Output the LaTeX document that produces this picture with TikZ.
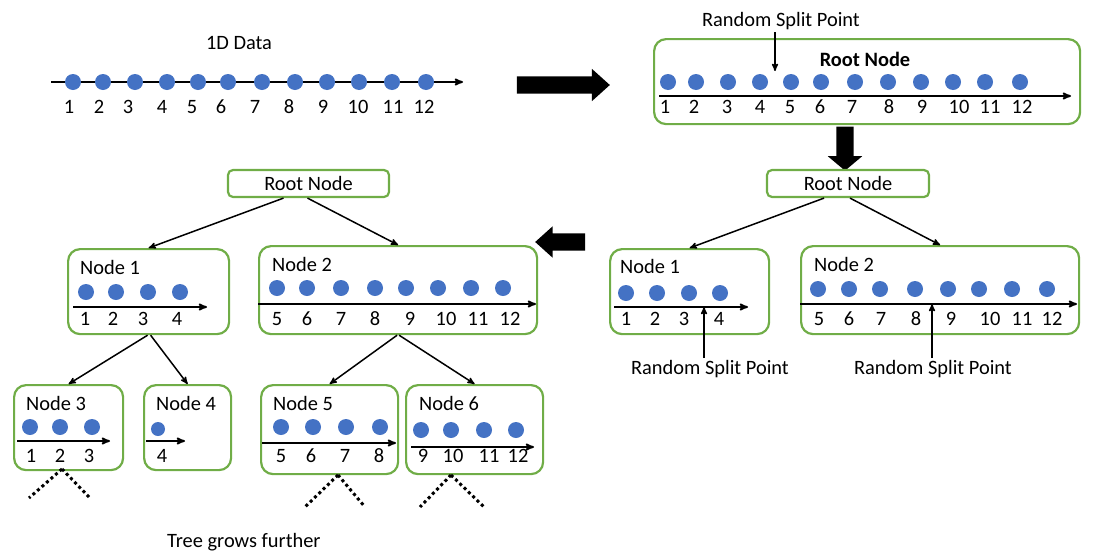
\documentclass[tikz,border=0pt]{standalone}
\usepackage{fontspec}
\setmainfont{Carlito}
\usepackage{tikz}
\usetikzlibrary{arrows,shapes.arrows,positioning}
\definecolor{boxgreen}{RGB}{112,173,71}
\definecolor{dotblue}{RGB}{68,114,196}

\begin{document}
\begin{tikzpicture}
  [x=1pt,y=-1pt,>=stealth',font=\fontsize{20.4}{24}\selectfont,
  tree box/.style={draw=boxgreen,line width=2.2pt,rounded corners=12pt,anchor=north west,inner sep=0pt},
  root box/.style={draw=boxgreen,line width=2.2pt,rounded corners=5pt,inner sep=0pt,minimum height=27pt},
  data dot/.style={circle,fill=dotblue,inner sep=0pt,minimum size=16pt},
  lbl/.style={anchor=base,inner sep=0pt},
  axis line/.style={->,line width=1.8pt},
  tree edge/.style={->,line width=1.5pt},
  block arrow/.style={single arrow,fill=black,draw=none,inner xsep=0pt,inner ysep=8.5pt,single arrow head extend=7.5pt,single arrow tip angle=84},
  grow line/.style={line width=3pt,dash pattern=on 3pt off 3pt}]
  \useasboundingbox (0,0) rectangle (1097,552);

  % 1D data
  \node[lbl] (title) at (239,49.5) {1D Data};
  \coordinate (a0s) at (51,82);
  \coordinate (a0e) at (463,82);
  \draw[axis line] (a0s) -- (a0e);
  \foreach \x [count=\i] in {73,103,135,167,198,228,262,295,327,359,392,426}
    \node[data dot] (d0\i) at (\x,82) {};
  \foreach \x [count=\i] in {69,99,128,162,192,221,255,289,323,358,393,424}
    \node[lbl] (l0\i) at (\x,113.5) {\i};

  \node[block arrow,minimum height=93pt,minimum width=32pt] (flow1) at (558.5,85) {};

  % root node with all data
  \node[tree box,minimum width=426pt,minimum height=85pt] (rootbig) at (653,38) {};
  \node[lbl] (split0) at (781,26) {Random Split Point};
  \node[lbl] (rootname) at (865,66.5) {\bfseries Root Node};
  \coordinate (sp0) at (775,71);
  \draw[tree edge,shorten <=3pt] ([xshift=-6pt]split0.south) -- (sp0);
  \coordinate (a1s) at (659,96);
  \coordinate (a1e) at (1071,96);
  \draw[axis line] (a1s) -- (a1e);
  \foreach \x [count=\i] in {668,696,728,760,791,821,855,888,921,953,985,1020}
    \node[data dot] (d1\i) at (\x,82) {};
  \foreach \x [count=\i] in {665,694,727,760,790,820,852,889,922,959,990,1022}
    \node[lbl] (l1\i) at (\x,113.5) {\i};

  \node[block arrow,rotate=-90,minimum height=44pt,minimum width=34pt,
    single arrow head extend=8.5pt,single arrow tip angle=100] (flow2) at (845,145) {};

  % first split
  \node[root box,minimum width=162pt] (rootR) at (848,183.5) {Root Node};
  \node[tree box,minimum width=159pt,minimum height=85pt] (n1R) at (609,248) {};
  \node[tree box,minimum width=278pt,minimum height=88pt] (n2R) at (800,245) {};
  \path[tree edge]
  ([xshift=-24pt]rootR.south) edge (n1R.north)
  ([xshift=2pt]rootR.south) edge (n2R.north);

  \node[lbl,anchor=base west] (t1R) at (620,273.5) {Node 1};
  \coordinate (a2s) at (614,307);
  \coordinate (a2e) at (748,307);
  \draw[axis line] (a2s) -- (a2e);
  \foreach \x [count=\i] in {626,657,689,720}
    \node[data dot] (d2\i) at (\x,293) {};
  \foreach \x [count=\i] in {626,655,684,719}
    \node[lbl] (l2\i) at (\x,325.5) {\i};
  \node[lbl] (split1) at (710,374.5) {Random Split Point};
  \coordinate (sp1) at (704,307);
  \draw[tree edge,shorten <=2pt] ([xshift=-6pt]split1.north) -- (sp1);

  \node[lbl,anchor=base west] (t2R) at (814,271.5) {Node 2};
  \coordinate (a3s) at (800,304);
  \coordinate (a3e) at (1077,304);
  \draw[axis line] (a3s) -- (a3e);
  \foreach \x [count=\i] in {818,849,880,915,948,979,1012,1047}
    \node[data dot] (d3\i) at (\x,289) {};
  \foreach \x [count=\i from 5] in {819,849,881,916,951,990,1022,1052}
    \node[lbl] (l3\i) at (\x,325.5) {\i};
  \node[lbl] (split2) at (933,374.5) {Random Split Point};
  \coordinate (sp2) at (932,304);
  \draw[tree edge,shorten <=2pt] ([xshift=-1pt]split2.north) -- (sp2);

  \node[block arrow,rotate=180,minimum height=50pt,minimum width=31pt,
    single arrow head extend=7pt] (flow3) at (565,242) {};

  % tree
  \node[root box,minimum width=161pt] (rootL) at (308.5,183.5) {Root Node};
  \node[tree box,minimum width=161pt,minimum height=85pt] (n1L) at (67,248) {};
  \node[tree box,minimum width=278pt,minimum height=88pt] (n2L) at (258,245) {};
  \node[tree box,minimum width=109pt,minimum height=85pt] (n3) at (13,384) {};
  \node[tree box,minimum width=87pt,minimum height=85pt] (n4) at (143,384) {};
  \node[tree box,minimum width=137pt,minimum height=89pt] (n5) at (260,384) {};
  \node[tree box,minimum width=137pt,minimum height=89pt] (n6) at (405,384) {};
  \path[tree edge]
  ([xshift=-25pt]rootL.south) edge (n1L.north)
  ([xshift=-1pt]rootL.south) edge (n2L.north)
  ([xshift=-1pt]n1L.south) edge (n3.north)
  ([xshift=2pt]n1L.south) edge (n4.north)
  ([xshift=-1pt]n2L.south) edge (n5.north)
  ([xshift=1pt]n2L.south) edge (n6.north);

  \node[lbl,anchor=base west] (t1L) at (80,274.5) {Node 1};
  \coordinate (a4s) at (73,307);
  \coordinate (a4e) at (207,307);
  \draw[axis line] (a4s) -- (a4e);
  \foreach \x [count=\i] in {86,116,148,180}
    \node[data dot] (d4\i) at (\x,292) {};
  \foreach \x [count=\i] in {85,113,143,177}
    \node[lbl] (l4\i) at (\x,325.5) {\i};

  \node[lbl,anchor=base west] (t2L) at (272,271.5) {Node 2};
  \coordinate (a5s) at (258,304);
  \coordinate (a5e) at (536,304);
  \draw[axis line] (a5s) -- (a5e);
  \foreach \x [count=\i] in {277,307,341,375,406,438,471,503}
    \node[data dot] (d5\i) at (\x,288) {};
  \foreach \x [count=\i from 5] in {277,307,341,375,410,446,478,510}
    \node[lbl] (l5\i) at (\x,325.5) {\i};

  \node[lbl,anchor=base west] (t3) at (26,410.5) {Node 3};
  \coordinate (a6s) at (17,441);
  \coordinate (a6e) at (110,441);
  \draw[axis line] (a6s) -- (a6e);
  \foreach \x [count=\i] in {30,60,92}
    \node[data dot] (d6\i) at (\x,427) {};
  \foreach \x [count=\i] in {31,60,89}
    \node[lbl] (l6\i) at (\x,462.5) {\i};

  \node[lbl,anchor=base west] (t4) at (156,410.5) {Node 4};
  \coordinate (a7s) at (146,441);
  \coordinate (a7e) at (185,441);
  \draw[axis line] (a7s) -- (a7e);
  \node[data dot,minimum size=14pt] (d71) at (158,429) {};
  \node[lbl] (l74) at (162,462.5) {4};

  \node[lbl,anchor=base west] (t5) at (273,410.5) {Node 5};
  \coordinate (a8s) at (262,443);
  \coordinate (a8e) at (396,443);
  \draw[axis line] (a8s) -- (a8e);
  \foreach \x [count=\i] in {281,313,346,380}
    \node[data dot] (d8\i) at (\x,427) {};
  \foreach \x [count=\i from 5] in {281,311,345,379}
    \node[lbl] (l8\i) at (\x,462.5) {\i};

  \node[lbl,anchor=base west] (t6) at (419,410.5) {Node 6};
  \coordinate (a9s) at (411,447);
  \coordinate (a9e) at (534,447);
  \draw[axis line] (a9s) -- (a9e);
  \foreach \x [count=\i] in {421,451,484,516}
    \node[data dot] (d9\i) at (\x,430) {};
  \foreach \x [count=\i from 9] in {423,453,489,518}
    \node[lbl] (l9\i) at (\x,462.5) {\i};

  % further splits
  \coordinate (g3) at (62,469);
  \coordinate (g3a) at (29,498);
  \coordinate (g3b) at (89,497);
  \coordinate (g5) at (338,475);
  \coordinate (g5a) at (305,507);
  \coordinate (g5b) at (365,507);
  \coordinate (g6) at (451,475);
  \coordinate (g6a) at (420,507);
  \coordinate (g6b) at (484,507);
  \draw[grow line] (g3) -- (g3a) (g3) -- (g3b);
  \draw[grow line] (g5) -- (g5a) (g5) -- (g5b);
  \draw[grow line] (g6) -- (g6a) (g6) -- (g6b);
  \node[lbl,anchor=base west] (grow) at (167,547) {Tree grows further};
\end{tikzpicture}
\end{document}
